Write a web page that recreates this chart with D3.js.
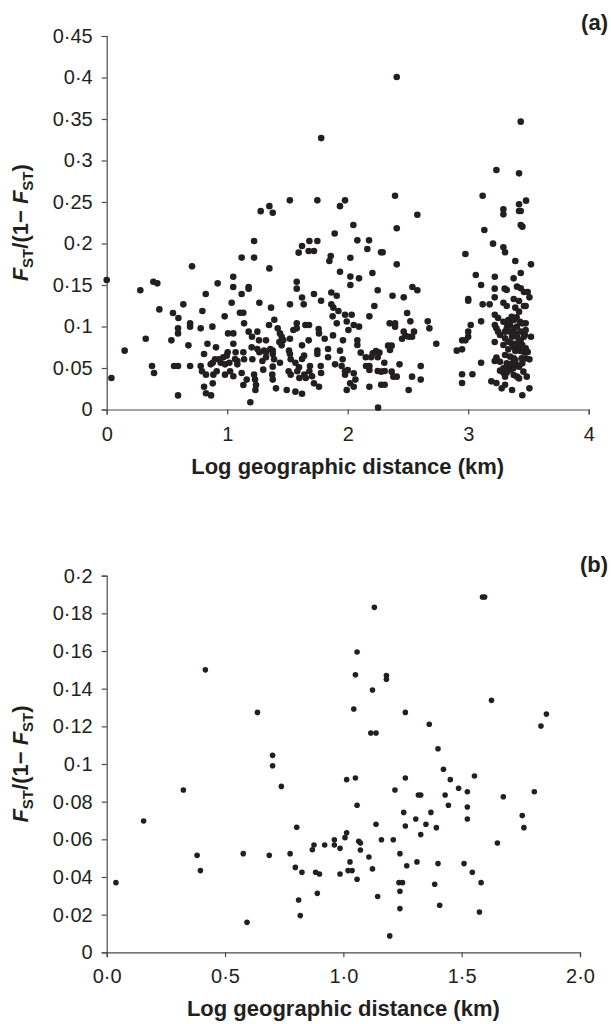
<!DOCTYPE html>
<html>
<head>
<meta charset="utf-8">
<script src="https://cdn.jsdelivr.net/npm/d3@7"></script>
<style>
  html, body { margin: 0; padding: 0; background: #fff; }
  svg { display: block; font-family: "Liberation Sans", Arial, sans-serif; }
</style>
</head>
<body>
<svg id="chart" width="611" height="1024"></svg>
<script>
// tick values
const xTicksA = [0, 1, 2, 3, 4];
const yTicksA = [0, 0.05, 0.1, 0.15, 0.2, 0.25, 0.3, 0.35, 0.4, 0.45];
const xTicksB = [0, 0.5, 1, 1.5, 2];
const yTicksB = [0, 0.02, 0.04, 0.06, 0.08, 0.1, 0.12, 0.14, 0.16, 0.18, 0.2];

// panel (a): [log distance, Fst/(1-Fst)], split by distance band
const pointsANear = [
  [0.0, 0.156], [0.039, 0.038], [0.149, 0.0709], [0.279, 0.1436], [0.324, 0.0853], [0.376, 0.0524],
  [0.387, 0.154], [0.393, 0.044], [0.42, 0.152], [0.437, 0.1206], [0.537, 0.0833], [0.55, 0.1163],
  [0.559, 0.0524], [0.592, 0.0978], [0.592, 0.0917], [0.592, 0.0524], [0.592, 0.017], [0.595, 0.1102],
  [0.636, 0.1267], [0.678, 0.0773], [0.692, 0.1038], [0.692, 0.0998], [0.692, 0.0524], [0.708, 0.1725],
  [0.78, 0.0978], [0.78, 0.0524], [0.791, 0.046], [0.794, 0.1187], [0.808, 0.0669], [0.808, 0.0275],
  [0.822, 0.1392], [0.824, 0.042], [0.824, 0.0195], [0.836, 0.0793], [0.863, 0.0544], [0.866, 0.017],
  [0.877, 0.0998], [0.88, 0.0564], [0.88, 0.0315], [0.885, 0.042], [0.899, 0.0605], [0.907, 0.0749],
  [0.913, 0.046], [0.921, 0.152], [0.932, 0.0605], [0.946, 0.0564], [0.968, 0.0629], [0.979, 0.1122],
  [0.982, 0.0544], [0.982, 0.042], [0.996, 0.0649],
];

const pointsAMid = [
  [1.004, 0.0689], [1.007, 0.0917], [1.018, 0.0564], [1.024, 0.046], [1.037, 0.1287], [1.05, 0.16],
  [1.05, 0.1476], [1.051, 0.0917], [1.051, 0.0793], [1.051, 0.04], [1.065, 0.0609], [1.07, 0.0689],
  [1.084, 0.0584], [1.084, 0.0544], [1.106, 0.1166], [1.12, 0.183], [1.12, 0.1392], [1.12, 0.044],
  [1.134, 0.1166], [1.134, 0.0689], [1.134, 0.0295], [1.14, 0.1038], [1.14, 0.0605], [1.162, 0.036],
  [1.178, 0.1476], [1.178, 0.1456], [1.178, 0.0938], [1.192, 0.0087], [1.203, 0.0749], [1.206, 0.0877],
  [1.209, 0.0605], [1.223, 0.203], [1.223, 0.183], [1.223, 0.042], [1.231, 0.036], [1.234, 0.0235],
  [1.239, 0.0295], [1.25, 0.0938], [1.25, 0.0729], [1.264, 0.0833], [1.267, 0.1287], [1.267, 0.0689],
  [1.278, 0.239], [1.292, 0.0584], [1.299, 0.048], [1.306, 0.0709], [1.322, 0.0833], [1.322, 0.0689],
  [1.322, 0.0629], [1.347, 0.1018], [1.35, 0.245], [1.35, 0.17], [1.358, 0.0729], [1.364, 0.1227],
  [1.374, 0.042], [1.378, 0.237], [1.378, 0.0709], [1.378, 0.0669], [1.378, 0.0516], [1.378, 0.036],
  [1.389, 0.0605], [1.391, 0.1082], [1.405, 0.0255], [1.419, 0.0978], [1.433, 0.0813], [1.438, 0.0917],
  [1.438, 0.0564], [1.452, 0.0877], [1.452, 0.0773], [1.466, 0.0837], [1.494, 0.0235], [1.51, 0.046],
  [1.513, 0.0709], [1.52, 0.252], [1.521, 0.1267], [1.521, 0.0853], [1.521, 0.0669], [1.527, 0.0605],
  [1.527, 0.042], [1.549, 0.0958], [1.566, 0.0564], [1.566, 0.0215], [1.577, 0.154], [1.577, 0.1456],
  [1.577, 0.1038], [1.577, 0.0978], [1.582, 0.046], [1.593, 0.189], [1.596, 0.0508], [1.599, 0.038],
  [1.621, 0.197], [1.621, 0.135], [1.621, 0.0773], [1.621, 0.0609], [1.621, 0.019], [1.635, 0.1267],
  [1.638, 0.0649], [1.64, 0.042], [1.649, 0.1018], [1.652, 0.038], [1.676, 0.191], [1.676, 0.0833],
  [1.679, 0.1018], [1.682, 0.203], [1.682, 0.046], [1.687, 0.0524], [1.704, 0.04], [1.72, 0.191],
  [1.72, 0.1392], [1.72, 0.0315], [1.748, 0.252], [1.748, 0.203], [1.748, 0.0709], [1.748, 0.0669],
  [1.759, 0.097], [1.762, 0.0917], [1.762, 0.0275], [1.776, 0.0524], [1.779, 0.131], [1.779, 0.044],
  [1.78, 0.327], [1.809, 0.0853], [1.837, 0.0729], [1.837, 0.0629], [1.848, 0.179], [1.859, 0.185],
  [1.864, 0.141], [1.864, 0.1267], [1.875, 0.1122], [1.878, 0.0893], [1.881, 0.1227], [1.892, 0.212],
  [1.895, 0.0544], [1.909, 0.137], [1.909, 0.1038], [1.923, 0.1187], [1.936, 0.245], [1.936, 0.166],
  [1.936, 0.0709], [1.95, 0.0524], [1.958, 0.0605], [1.961, 0.0833], [1.978, 0.252], [1.978, 0.1142],
  [1.978, 0.046], [1.978, 0.042], [1.992, 0.106], [1.992, 0.0235],
];

const pointsAFar = [
  [2.0, 0.0474], [2.006, 0.0958], [2.02, 0.0315], [2.022, 0.1829], [2.022, 0.1601], [2.022, 0.15],
  [2.033, 0.1142], [2.047, 0.2223], [2.05, 0.1018], [2.05, 0.0436], [2.05, 0.0275], [2.064, 0.036],
  [2.08, 0.2038], [2.08, 0.0833], [2.08, 0.0777], [2.094, 0.158], [2.094, 0.0998], [2.108, 0.0685],
  [2.15, 0.0629], [2.152, 0.0524], [2.163, 0.1934], [2.177, 0.2038], [2.18, 0.1122], [2.18, 0.0524],
  [2.18, 0.0476], [2.18, 0.0275], [2.194, 0.0629], [2.205, 0.1645], [2.208, 0.0677], [2.221, 0.1247],
  [2.235, 0.0705], [2.249, 0.1436], [2.249, 0.0629], [2.249, 0.0464], [2.252, 0.0022], [2.263, 0.0685],
  [2.277, 0.1894], [2.278, 0.0456], [2.278, 0.0299], [2.29, 0.1894], [2.304, 0.0564], [2.307, 0.0464],
  [2.307, 0.0299], [2.335, 0.0769], [2.348, 0.1038], [2.351, 0.0717], [2.365, 0.0769], [2.365, 0.0456],
  [2.372, 0.1371], [2.379, 0.0396], [2.393, 0.2576], [2.393, 0.1038], [2.393, 0.0998], [2.407, 0.4006],
  [2.407, 0.2183], [2.407, 0.1749], [2.407, 0.0396], [2.43, 0.0544], [2.451, 0.0853], [2.465, 0.1351],
  [2.465, 0.0938], [2.479, 0.0889], [2.493, 0.1163], [2.506, 0.0877], [2.506, 0.0235], [2.52, 0.1062],
  [2.534, 0.0877], [2.534, 0.0396], [2.537, 0.1476], [2.55, 0.0938], [2.578, 0.2347], [2.578, 0.1436],
  [2.606, 0.0524], [2.606, 0.036], [2.664, 0.1062], [2.678, 0.0978], [2.735, 0.0793], [2.905, 0.0709],
  [2.949, 0.0725], [2.95, 0.0833], [2.949, 0.0424], [2.949, 0.0319], [2.977, 0.1874], [2.977, 0.0833],
  [3.0, 0.1331], [3.0, 0.131], [3.0, 0.0938], [3.0, 0.0877],
];

const pointsACluster = [
  [3.021, 0.1018], [3.035, 0.0424], [3.063, 0.162], [3.107, 0.15], [3.107, 0.1062], [3.107, 0.0564],
  [3.12, 0.2576], [3.12, 0.1267], [3.134, 0.2163], [3.178, 0.1267], [3.192, 0.0339], [3.206, 0.1998],
  [3.22, 0.1456], [3.22, 0.1351], [3.22, 0.0813], [3.22, 0.0584], [3.221, 0.16], [3.221, 0.1142],
  [3.221, 0.1018], [3.234, 0.2885], [3.234, 0.0978], [3.234, 0.0625], [3.234, 0.0319], [3.237, 0.0596],
  [3.248, 0.1102], [3.248, 0.0938], [3.264, 0.0898], [3.264, 0.0576], [3.264, 0.0468], [3.278, 0.0255],
  [3.292, 0.2412], [3.292, 0.2351], [3.292, 0.1954], [3.292, 0.1287], [3.292, 0.1058], [3.292, 0.0777],
  [3.292, 0.0496], [3.292, 0.0444], [3.303, 0.1456], [3.306, 0.1894], [3.306, 0.0938], [3.306, 0.0857],
  [3.306, 0.0657], [3.306, 0.0396], [3.306, 0.0299], [3.32, 0.144], [3.32, 0.1247], [3.32, 0.1038],
  [3.32, 0.0978], [3.32, 0.0556], [3.32, 0.0444], [3.333, 0.1078], [3.333, 0.0817], [3.333, 0.0725],
  [3.333, 0.0516], [3.347, 0.1018], [3.347, 0.0938], [3.347, 0.0637], [3.347, 0.0476], [3.36, 0.0797],
  [3.361, 0.1118], [3.364, 0.0877], [3.364, 0.0556], [3.364, 0.0235], [3.375, 0.0496], [3.377, 0.158],
  [3.378, 0.1331], [3.378, 0.1078], [3.378, 0.0978], [3.378, 0.0757], [3.378, 0.0616], [3.378, 0.0416],
  [3.391, 0.179], [3.391, 0.1227], [3.391, 0.0918], [3.391, 0.0705], [3.391, 0.0596], [3.402, 0.111],
  [3.403, 0.0536], [3.405, 0.148], [3.405, 0.0998], [3.405, 0.0877], [3.405, 0.0797], [3.405, 0.0396],
  [3.417, 0.0757], [3.422, 0.2845], [3.422, 0.2472], [3.422, 0.2392], [3.422, 0.1307], [3.422, 0.1179],
  [3.422, 0.0516], [3.422, 0.0375], [3.43, 0.1058], [3.433, 0.0705], [3.436, 0.3468], [3.436, 0.2392],
  [3.436, 0.2223], [3.436, 0.1645], [3.436, 0.146], [3.436, 0.0938], [3.436, 0.0837], [3.444, 0.0616],
  [3.449, 0.1038], [3.449, 0.0777], [3.449, 0.0556], [3.449, 0.0171], [3.45, 0.2203], [3.458, 0.0456],
  [3.463, 0.1416], [3.463, 0.1247], [3.463, 0.0877], [3.463, 0.0693], [3.47, 0.0898], [3.477, 0.1247],
  [3.477, 0.1038], [3.477, 0.0958], [3.477, 0.0737], [3.477, 0.0616], [3.48, 0.2516], [3.486, 0.0396],
  [3.494, 0.1416], [3.494, 0.0693], [3.508, 0.1351], [3.508, 0.0604], [3.508, 0.0255], [3.521, 0.1749],
  [3.521, 0.0877],
];

// panel (b)
const pointsBLow = [
  [0.039, 0.037], [0.156, 0.0697], [0.324, 0.0862], [0.417, 0.15], [0.382, 0.0515], [0.396, 0.0434],
  [0.593, 0.0159], [0.577, 0.0524], [0.637, 0.1274], [0.701, 0.1046], [0.701, 0.0991], [0.738, 0.0881],
  [0.687, 0.0515], [0.775, 0.0524], [0.803, 0.0664], [0.797, 0.0451], [0.825, 0.0425], [0.811, 0.0278],
  [0.818, 0.0195], [0.869, 0.0545], [0.876, 0.057], [0.921, 0.057], [0.883, 0.0425], [0.899, 0.0416],
  [0.89, 0.0313], [0.962, 0.0598], [0.962, 0.057], [0.986, 0.0552], [0.986, 0.0416], [1.007, 0.0609],
  [1.014, 0.0635], [1.014, 0.0917], [1.02, 0.0434], [1.028, 0.048],
];

const pointsBHigh = [
  [1.131, 0.1832], [1.588, 0.1887], [1.597, 0.1887], [1.058, 0.1595], [1.051, 0.1474], [1.182, 0.147],
  [1.182, 0.145], [1.123, 0.1393], [1.626, 0.1338], [1.044, 0.1292], [1.262, 0.1274], [1.858, 0.1265],
  [1.835, 0.1202], [1.363, 0.1211], [1.116, 0.1165], [1.138, 0.1165], [1.4, 0.1081], [1.423, 0.0972],
  [1.051, 0.0926], [1.262, 0.0926], [1.452, 0.0917], [1.554, 0.0936], [1.487, 0.0871], [1.524, 0.0853],
  [1.317, 0.0835], [1.327, 0.0835], [1.43, 0.0835], [1.218, 0.0862], [1.676, 0.0826], [1.807, 0.0853],
  [1.058, 0.0781], [1.444, 0.0781], [1.524, 0.0772], [1.255, 0.0743], [1.37, 0.0743], [1.756, 0.0726],
  [1.306, 0.0708], [1.524, 0.0708], [1.138, 0.068], [1.262, 0.0671], [1.349, 0.068], [1.393, 0.0662],
  [1.763, 0.0662], [1.327, 0.0625], [1.161, 0.0598], [1.211, 0.0598], [1.065, 0.059], [1.072, 0.058],
  [1.072, 0.0543], [1.651, 0.058], [1.108, 0.0506], [1.239, 0.0524], [1.037, 0.0434], [1.058, 0.0388],
  [1.123, 0.0443], [1.268, 0.046], [1.311, 0.048], [1.4, 0.0471], [1.51, 0.0471], [1.545, 0.0425],
  [1.235, 0.037], [1.25, 0.037], [1.386, 0.0361], [1.582, 0.037], [1.239, 0.0324], [1.145, 0.0296],
  [1.239, 0.0232], [1.407, 0.025], [1.575, 0.0214], [1.196, 0.0087],
];

const ink = '#231f20';
const axisColor = '#4a4a4a';

const panelA = {
  label: '(a)',
  left: 106.7,
  right: 588.7,
  top: 36,
  bottom: 409.5,
  dotR: 3.3,
  labelY: 30,
};
const panelB = {
  label: '(b)',
  left: 106.7,
  right: 580,
  top: 575.7,
  bottom: 952.3,
  dotR: 2.8,
  labelY: 572,
};

const fmtDot = (d, digits) => d.toFixed(digits).replace('.', '\u00b7');
const fmtY = (d) => (d === 0 ? '0' : String(+d.toFixed(2)).replace('.', '\u00b7'));

const svg = d3.select('#chart');

/**
 * Draw one scatter panel
 * @param {object} p - panel layout
 * @param {array} points - [x, y] pairs
 * @param {array} xTicks - x tick values
 * @param {array} yTicks - y tick values
 * @param {function} xFmt - x tick format
 */
function drawPanel(p, points, xTicks, yTicks, xFmt) {
  const x = d3.scaleLinear()
    .domain([xTicks[0], xTicks[xTicks.length - 1]])
    .range([p.left, p.right]);
  const y = d3.scaleLinear()
    .domain([yTicks[0], yTicks[yTicks.length - 1]])
    .range([p.bottom, p.top]);

  const g = svg.append('g');

  // x axis
  g.append('g')
    .attr('transform', `translate(0,${p.bottom})`)
    .call(d3.axisBottom(x).tickValues(xTicks).tickFormat(xFmt).tickSize(5).tickPadding(12))
    .call((a) => a.select('.domain').attr('stroke', axisColor).attr('stroke-width', 1.2))
    .call((a) => a.selectAll('.tick line').attr('stroke', axisColor).attr('stroke-width', 1.2))
    .call((a) => a.selectAll('.tick text')
      .attr('fill', ink)
      .style('font-size', '20px')
      .style('font-family', '"Liberation Sans", Arial, sans-serif'));

  // y axis
  g.append('g')
    .attr('transform', `translate(${p.left},0)`)
    .call(d3.axisLeft(y).tickValues(yTicks).tickFormat(fmtY).tickSize(5).tickPadding(9))
    .call((a) => a.select('.domain').attr('stroke', axisColor).attr('stroke-width', 1.2))
    .call((a) => a.selectAll('.tick line').attr('stroke', axisColor).attr('stroke-width', 1.2))
    .call((a) => a.selectAll('.tick text')
      .attr('fill', ink)
      .style('font-size', '20px')
      .style('font-family', '"Liberation Sans", Arial, sans-serif'));

  // dots
  g.append('g')
    .selectAll('circle')
    .data(points)
    .join('circle')
      .attr('cx', (d) => x(d[0]))
      .attr('cy', (d) => y(d[1]))
      .attr('r', p.dotR)
      .attr('fill', ink);

  // x title
  g.append('text')
    .attr('x', (p.left + p.right) / 2)
    .attr('y', p.bottom + 64)
    .attr('text-anchor', 'middle')
    .attr('fill', ink)
    .style('font-size', '22px')
    .style('font-weight', 'bold')
    .text('Log geographic distance (km)');

  // y title: F_ST/(1- F_ST)
  g.append('text')
    .attr('transform', `translate(28,${(p.top + p.bottom) / 2}) rotate(-90)`)
    .attr('text-anchor', 'middle')
    .attr('fill', ink)
    .style('font-size', '22px')
    .style('font-weight', 'bold')
    .call((t) => t.append('tspan').style('font-style', 'italic').text('F'))
    .call((t) => t.append('tspan').attr('dy', 5).style('font-size', '15px').text('ST'))
    .call((t) => t.append('tspan').attr('dy', -5).text('/(1\u2212 '))
    .call((t) => t.append('tspan').style('font-style', 'italic').text('F'))
    .call((t) => t.append('tspan').attr('dy', 5).style('font-size', '15px').text('ST'))
    .call((t) => t.append('tspan').attr('dy', -5).text(')'));

  // panel label
  g.append('text')
    .attr('x', 608)
    .attr('y', p.labelY)
    .attr('text-anchor', 'end')
    .attr('fill', ink)
    .style('font-size', '22px')
    .style('font-weight', 'bold')
    .text(p.label);
}

drawPanel(panelA, pointsANear.concat(pointsAMid, pointsAFar, pointsACluster),
  xTicksA, yTicksA, (d) => String(d));
drawPanel(panelB, pointsBLow.concat(pointsBHigh),
  xTicksB, yTicksB, (d) => fmtDot(d, 1));
</script>
</body>
</html>
